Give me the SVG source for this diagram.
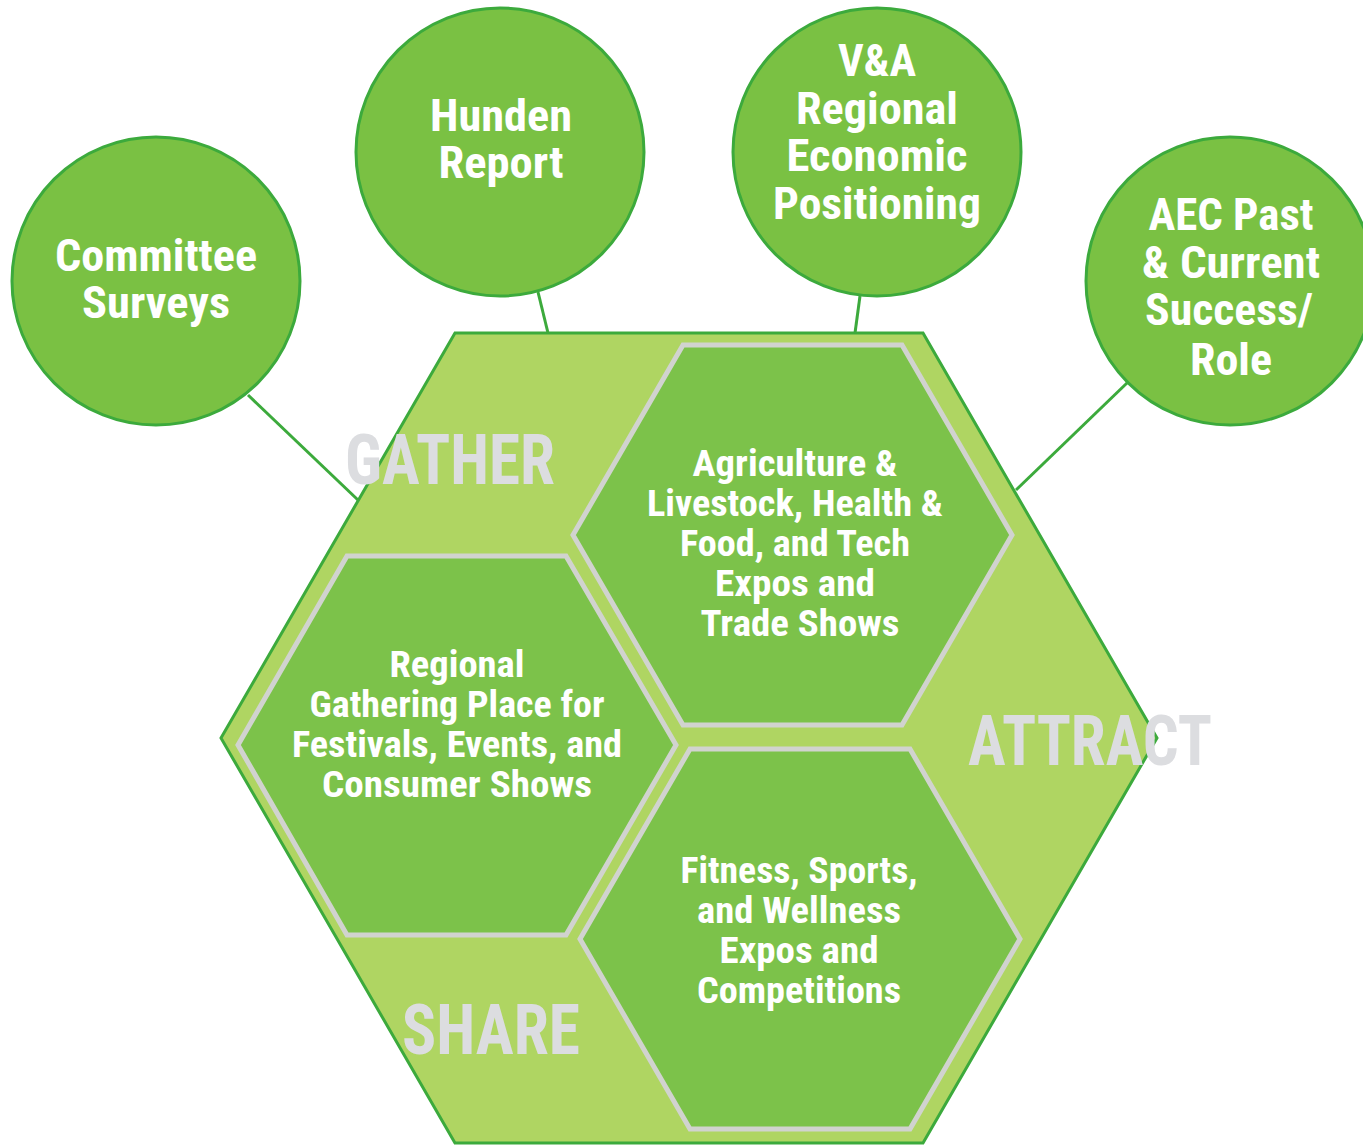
<svg xmlns="http://www.w3.org/2000/svg" width="1363" height="1145" viewBox="0 0 1363 1145">
  <style>
    .bg { fill: #ffffff; }
    .outer { fill: #afd562; stroke: #3caa3c; stroke-width: 3; stroke-linejoin: miter; }
    .inner { fill: #7cc24a; stroke: #d1d3cf; stroke-width: 5; stroke-linejoin: miter; }
    .bubble { fill: #7ac143; stroke: #3caa3c; stroke-width: 3; }
    .link { stroke: #3caa3c; stroke-width: 3; fill: none; }
    .lbl { font-family: "Liberation Sans Narrow", "Roboto Condensed", "Liberation Sans", sans-serif; font-weight: bold; fill: #ffffff; text-anchor: middle; }
    .big { font-size: 44px; }
    .mid { font-size: 37px; }
    .theme { font-family: "Liberation Sans Narrow", "Roboto Condensed", "Liberation Sans", sans-serif; font-weight: bold; fill: #dcdde0; font-size: 70px; }
  </style>

  <rect class="bg" x="0" y="0" width="1363" height="1145"/>

  <!-- connectors between the bubbles and the central hexagon -->
  <g id="connectors">
    <line class="link" x1="248" y1="395" x2="358" y2="500"/>
    <line class="link" x1="538" y1="292" x2="548" y2="333"/>
    <line class="link" x1="860" y1="296" x2="855" y2="333"/>
    <line class="link" x1="1127" y1="383" x2="1016" y2="490"/>
  </g>

  <!-- central hexagon -->
  <g id="hub">
    <polygon class="outer" points="221,738 455,333 923,333 1157,738 923,1143 455,1143"/>
  </g>

  <g id="hex-expos">
    <polygon class="inner" points="573,535 683,345 902,345 1012,535 902,725 683,725"/>
    <text class="lbl mid">
      <tspan x="795" y="476" textLength="205" lengthAdjust="spacingAndGlyphs">Agriculture &amp;</tspan>
    </text>
    <text class="lbl mid"><tspan x="795" y="516" textLength="296" lengthAdjust="spacingAndGlyphs">Livestock, Health &amp;</tspan></text>
    <text class="lbl mid"><tspan x="795" y="556" textLength="230" lengthAdjust="spacingAndGlyphs">Food, and Tech</tspan></text>
    <text class="lbl mid"><tspan x="795" y="596" textLength="160" lengthAdjust="spacingAndGlyphs">Expos and</tspan></text>
    <text class="lbl mid"><tspan x="800" y="636" textLength="199" lengthAdjust="spacingAndGlyphs">Trade Shows</tspan></text>
  </g>

  <g id="hex-gathering">
    <polygon class="inner" points="238,745 347,556 566,556 676,745 566,935 347,935"/>
    <text class="lbl mid"><tspan x="457" y="677" textLength="135" lengthAdjust="spacingAndGlyphs">Regional</tspan></text>
    <text class="lbl mid"><tspan x="457" y="717" textLength="295" lengthAdjust="spacingAndGlyphs">Gathering Place for</tspan></text>
    <text class="lbl mid"><tspan x="457" y="757" textLength="330" lengthAdjust="spacingAndGlyphs">Festivals, Events, and</tspan></text>
    <text class="lbl mid"><tspan x="457" y="797" textLength="270" lengthAdjust="spacingAndGlyphs">Consumer Shows</tspan></text>
  </g>

  <g id="hex-fitness">
    <polygon class="inner" points="580,939 690,749 910,749 1020,939 910,1129 690,1129"/>
    <text class="lbl mid"><tspan x="799" y="883" textLength="237" lengthAdjust="spacingAndGlyphs">Fitness, Sports,</tspan></text>
    <text class="lbl mid"><tspan x="799" y="923" textLength="204" lengthAdjust="spacingAndGlyphs">and Wellness</tspan></text>
    <text class="lbl mid"><tspan x="799" y="963" textLength="159" lengthAdjust="spacingAndGlyphs">Expos and</tspan></text>
    <text class="lbl mid"><tspan x="799" y="1003" textLength="204" lengthAdjust="spacingAndGlyphs">Competitions</tspan></text>
  </g>

  <!-- theme words -->
  <g id="themes">
    <text class="theme" x="345" y="484" textLength="210" lengthAdjust="spacingAndGlyphs">GATHER</text>
    <text class="theme" x="968" y="765" textLength="244" lengthAdjust="spacingAndGlyphs">ATTRACT</text>
    <text class="theme" x="402" y="1054" textLength="178" lengthAdjust="spacingAndGlyphs">SHARE</text>
  </g>

  <!-- input bubbles -->
  <g id="bubble-surveys">
    <circle class="bubble" cx="156" cy="281" r="144"/>
    <text class="lbl big"><tspan x="156" y="271" textLength="202" lengthAdjust="spacingAndGlyphs">Committee</tspan></text>
    <text class="lbl big"><tspan x="156" y="318" textLength="148" lengthAdjust="spacingAndGlyphs">Surveys</tspan></text>
  </g>

  <g id="bubble-hunden">
    <circle class="bubble" cx="500" cy="152" r="144"/>
    <text class="lbl big"><tspan x="501" y="131" textLength="142" lengthAdjust="spacingAndGlyphs">Hunden</tspan></text>
    <text class="lbl big"><tspan x="501" y="178" textLength="125" lengthAdjust="spacingAndGlyphs">Report</tspan></text>
  </g>

  <g id="bubble-va">
    <circle class="bubble" cx="877" cy="152" r="144"/>
    <text class="lbl big"><tspan x="877" y="76" textLength="78" lengthAdjust="spacingAndGlyphs">V&amp;A</tspan></text>
    <text class="lbl big"><tspan x="877" y="124" textLength="162" lengthAdjust="spacingAndGlyphs">Regional</tspan></text>
    <text class="lbl big"><tspan x="877" y="171" textLength="181" lengthAdjust="spacingAndGlyphs">Economic</tspan></text>
    <text class="lbl big"><tspan x="877" y="219" textLength="208" lengthAdjust="spacingAndGlyphs">Positioning</tspan></text>
  </g>

  <g id="bubble-aec">
    <circle class="bubble" cx="1230" cy="281" r="144"/>
    <text class="lbl big"><tspan x="1231" y="230" textLength="165" lengthAdjust="spacingAndGlyphs">AEC Past</tspan></text>
    <text class="lbl big"><tspan x="1231" y="278" textLength="178" lengthAdjust="spacingAndGlyphs">&amp; Current</tspan></text>
    <text class="lbl big"><tspan x="1229" y="325" textLength="168" lengthAdjust="spacingAndGlyphs">Success/</tspan></text>
    <text class="lbl big"><tspan x="1231" y="375" textLength="82" lengthAdjust="spacingAndGlyphs">Role</tspan></text>
  </g>
</svg>
